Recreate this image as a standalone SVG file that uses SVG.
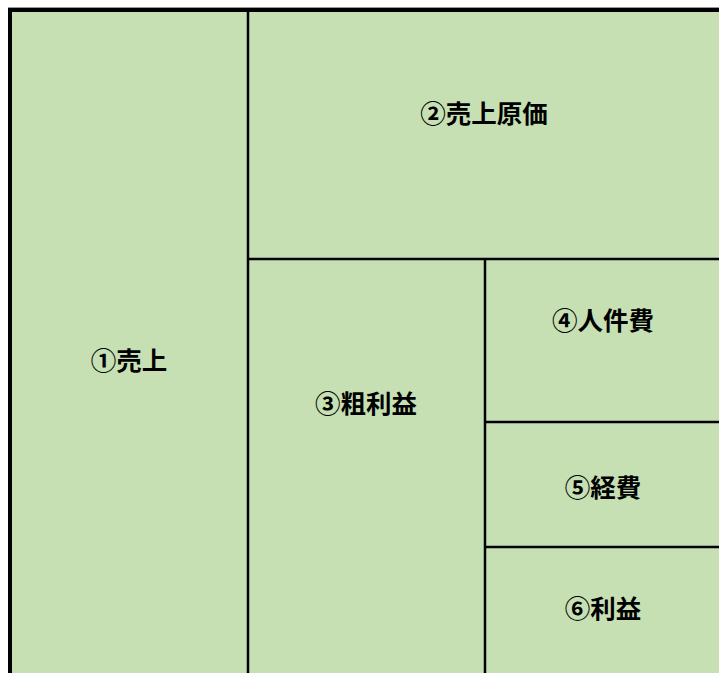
<svg xmlns="http://www.w3.org/2000/svg" width="719" height="673" viewBox="0 0 719 673">
<style>
.cell{fill:#c6e0b4;stroke:none}
.ln{stroke:#000;stroke-width:2.5;fill:none}
.outer{stroke:#000;stroke-width:4;fill:none}
.t{font-family:"Noto Sans CJK JP","Noto Sans",sans-serif;font-weight:bold;font-size:25.5px;fill:#000;text-anchor:middle;dominant-baseline:central}
</style>
<rect x="0" y="0" width="719" height="673" fill="#fff"/>
<rect class="cell" x="10" y="10" width="709" height="663"/>
<line x1="8" y1="7.5" x2="719" y2="7.5" stroke="#999" stroke-width="1"/>
<g id="connectors">
<line class="outer" x1="8" y1="10" x2="719" y2="10"/>
<line class="outer" x1="10" y1="8" x2="10" y2="673"/>
<line class="ln" x1="248" y1="12" x2="248" y2="673"/>
<line class="ln" x1="248" y1="259" x2="719" y2="259"/>
<line class="ln" x1="485" y1="259" x2="485" y2="673"/>
<line class="ln" x1="485" y1="422" x2="719" y2="422"/>
<line class="ln" x1="485" y1="547" x2="719" y2="547"/>
</g>
<g id="n1"><text class="t" x="129" y="358">①売上</text></g>
<g id="n2"><text class="t" x="484" y="111">②売上原価</text></g>
<g id="n3"><text class="t" x="366" y="401">③粗利益</text></g>
<g id="n4"><text class="t" x="603" y="318">④人件費</text></g>
<g id="n5"><text class="t" x="603" y="485">⑤経費</text></g>
<g id="n6"><text class="t" x="603" y="606">⑥利益</text></g>
</svg>
